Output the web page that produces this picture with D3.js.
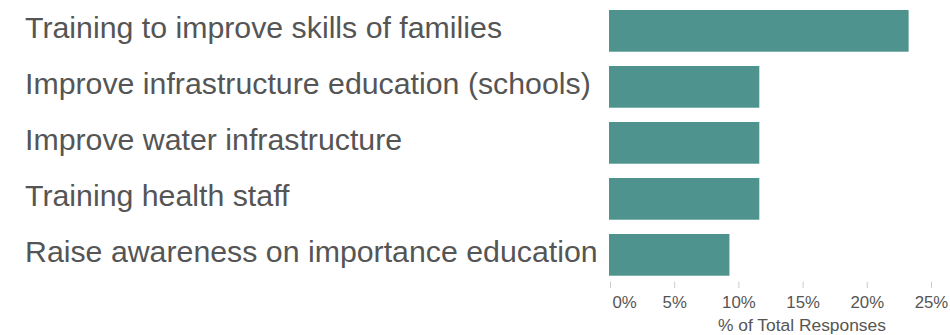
<!DOCTYPE html>
<html><head><meta charset="utf-8">
<script src="https://cdn.jsdelivr.net/npm/d3@7"></script>
<style>body{margin:0;background:#fff;} svg{display:block;}</style>
</head><body>
<svg id="c" width="950" height="335"></svg>
<script>
const categories = [
  "Training to improve skills of families",
  "Improve infrastructure education (schools)",
  "Improve water infrastructure",
  "Training health staff",
  "Raise awareness on importance education"
];
const values = [10/43*100, 5/43*100, 5/43*100, 5/43*100, 4/43*100];
const tickValues = [0, 5, 10, 15, 20, 25];
const tickLabels = ["0%", "5%", "10%", "15%", "20%", "25%"];
const axisTitle = "% of Total Responses";

const svg = d3.select("#c");
const font = "'Liberation Sans', Arial, sans-serif";
const x = d3.scaleLinear().domain([0, 25]).range([610, 931]);
const y = d3.scaleBand().domain(categories).range([2.85, 282.85]).paddingInner(0.255).paddingOuter(0.1275);

svg.selectAll("rect.bar").data(categories).enter().append("rect")
  .attr("class", "bar")
  .attr("x", x(0) - 1)
  .attr("y", d => y(d))
  .attr("width", (d, i) => x(values[i]) - x(0) + 1)
  .attr("height", y.bandwidth())
  .attr("fill", "#4e938e");

svg.selectAll("text.cat").data(categories).enter().append("text")
  .attr("class", "cat")
  .attr("x", 25)
  .attr("y", d => y(d) + y.bandwidth() / 2 + 7.5)
  .attr("font-family", font)
  .attr("font-size", 30.3)
  .attr("fill", "#555")
  .text(d => d);

const axis = d3.axisBottom(x).tickValues(tickValues).tickSize(6.5)
  .tickFormat((d, i) => tickLabels[i]);
const g = svg.append("g").attr("transform", "translate(0,281.7)").call(axis);
g.select(".domain").remove();
g.selectAll(".tick line").attr("stroke", "#ccc");
g.selectAll(".tick text")
  .attr("font-family", font).attr("font-size", 16.8).attr("fill", "#555")
  .attr("y", 26.3).attr("dy", 0);
g.selectAll(".tick text").filter(d => d === 0).attr("text-anchor", "start").attr("x", 2);

svg.append("text").attr("x", 802).attr("y", 331)
  .attr("text-anchor", "middle")
  .attr("font-family", font).attr("font-size", 17.4).attr("fill", "#555")
  .text(axisTitle);
</script>
</body></html>
